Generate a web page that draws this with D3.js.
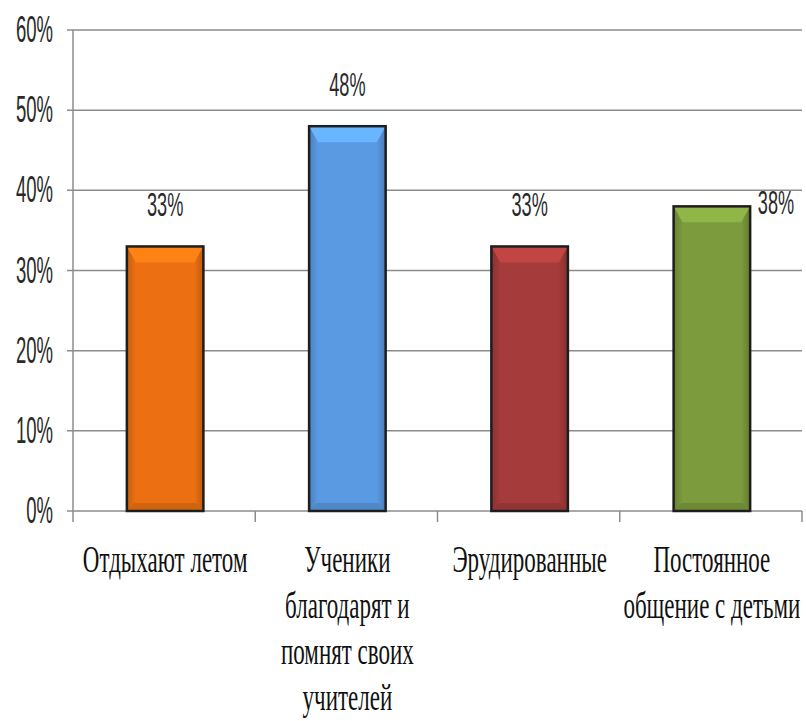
<!DOCTYPE html>
<html>
<head>
<meta charset="utf-8">
<script src="https://cdn.jsdelivr.net/npm/d3@7"></script>
<style>
  body { margin: 0; background: #fff; }
  svg { display: block; }
  .serif { font-family: "Liberation Serif", "DejaVu Serif", serif; }
  .sans { font-family: "Liberation Sans", "DejaVu Sans", sans-serif; }
</style>
</head>
<body>
<div id="chart"></div>
<script>
// data
const categories = ["Отдыхают летом", "Ученики благодарят и помнят своих учителей", "Эрудированные", "Постоянное общение с детьми"];
const categoryLines = [
    ["Отдыхают летом"],
    ["Ученики", "благодарят и", "помнят своих", "учителей"],
    ["Эрудированные"],
    ["Постоянное", "общение с детьми"]
];
const values = [0.33, 0.48, 0.33, 0.38];
const valueLabels = ["33%", "48%", "33%", "38%"];
const yTicks = [0, 0.1, 0.2, 0.3, 0.4, 0.5, 0.6];
const barColors = ["#ec7011", "#5a9ae3", "#a53b3a", "#7b9b3d"];

const width = 806, height = 721;
const plotLeft = 73, plotRight = 802, plotTop = 30, plotBottom = 511;

const svg = d3.select("#chart").append("svg")
    .attr("width", width)
    .attr("height", height);

const x = d3.scaleBand().domain(categories).range([plotLeft, plotRight]).padding(0);
const y = d3.scaleLinear().domain([0, 0.6]).range([plotBottom, plotTop]);
const barW = x.bandwidth() * 0.42;

const defs = svg.append("defs");
barColors.forEach((c, i) => {
    const g = defs.append("linearGradient").attr("id", "side" + i)
        .attr("x1", 0).attr("x2", 1).attr("y1", 0).attr("y2", 0);
    const col = d3.color(c);
    g.append("stop").attr("offset", "0%").attr("stop-color", col.darker(0.5));
    g.append("stop").attr("offset", "12%").attr("stop-color", c);
    g.append("stop").attr("offset", "88%").attr("stop-color", c);
    g.append("stop").attr("offset", "100%").attr("stop-color", col.darker(0.6));
});

// gridlines
svg.append("g").selectAll("line")
    .data(yTicks)
    .join("line")
    .attr("x1", plotLeft - 6).attr("x2", plotRight)
    .attr("y1", d => y(d)).attr("y2", d => y(d))
    .attr("stroke", "#8c8c8c")
    .attr("stroke-width", 1.5);

// y axis line
svg.append("line")
    .attr("x1", plotLeft).attr("x2", plotLeft)
    .attr("y1", plotTop).attr("y2", plotBottom + 11)
    .attr("stroke", "#8c8c8c").attr("stroke-width", 1.5);

// x ticks between categories
svg.append("g").selectAll("line")
    .data(categories)
    .join("line")
    .attr("x1", d => x(d) + x.step())
    .attr("x2", d => x(d) + x.step())
    .attr("y1", plotBottom).attr("y2", plotBottom + 11)
    .attr("stroke", "#8c8c8c").attr("stroke-width", 1.5);

// y tick labels
svg.append("g").selectAll("text")
    .data(yTicks)
    .join("text")
    .attr("class", "sans")
    .attr("transform", d => `translate(53,${y(d) + 12}) scale(0.5,1)`)
    .attr("text-anchor", "end")
    .attr("font-size", 37)
    .attr("fill", "#2a2a2a")
    .text(d => Math.round(d * 100) + "%");

// bars
const bars = svg.append("g").selectAll("g")
    .data(values)
    .join("g")
    .attr("transform", (d, i) => `translate(${x(categories[i]) + x.bandwidth() / 2 - barW / 2 + 1},0)`);

bars.append("rect")
    .attr("x", 0)
    .attr("y", d => y(d))
    .attr("width", barW)
    .attr("height", d => plotBottom - y(d))
    .attr("fill", (d, i) => `url(#side${i})`);

// bevel on top
bars.append("path")
    .attr("d", d => {
        const t = y(d), b = 16, s = 9;
        return `M0,${t} L${barW},${t} L${barW - s},${t + b} L${s},${t + b} Z`;
    })
    .attr("fill", (d, i) => d3.color(barColors[i]).brighter(0.45));

// shade at bottom
bars.append("path")
    .attr("d", d => {
        const s = 8;
        return `M0,${plotBottom} L${barW},${plotBottom} L${barW - s},${plotBottom - 8} L${s},${plotBottom - 8} Z`;
    })
    .attr("fill", (d, i) => d3.color(barColors[i]).darker(0.35));

bars.append("rect")
    .attr("x", 0)
    .attr("y", d => y(d))
    .attr("width", barW)
    .attr("height", d => plotBottom - y(d))
    .attr("fill", "none")
    .attr("stroke", "#1e1e1e")
    .attr("stroke-width", 2.5);

// value labels
const labelPos = values.map((v, i) => i === 3
    ? [plotRight - 26, y(v) + 8]
    : [x(categories[i]) + x.bandwidth() / 2 + 1, y(v) - 30]);

svg.append("g").selectAll("text")
    .data(valueLabels)
    .join("text")
    .attr("class", "sans")
    .attr("transform", (d, i) => `translate(${labelPos[i][0]},${labelPos[i][1]}) scale(0.55,1)`)
    .attr("text-anchor", "middle")
    .attr("font-size", 33)
    .attr("fill", "#2a2a2a")
    .text(d => d);

// category labels
const cat = svg.append("g").selectAll("g")
    .data(categoryLines)
    .join("g")
    .attr("transform", (d, i) => `translate(${x(categories[i]) + x.bandwidth() / 2 + 1},572)`);

cat.selectAll("text")
    .data(d => d)
    .join("text")
    .attr("class", "serif")
    .attr("transform", (d, j) => `translate(0,${j * 46}) scale(0.59,1)`)
    .attr("text-anchor", "middle")
    .attr("font-size", 39)
    .attr("fill", "#111")
    .text(d => d);
</script>
</body>
</html>
